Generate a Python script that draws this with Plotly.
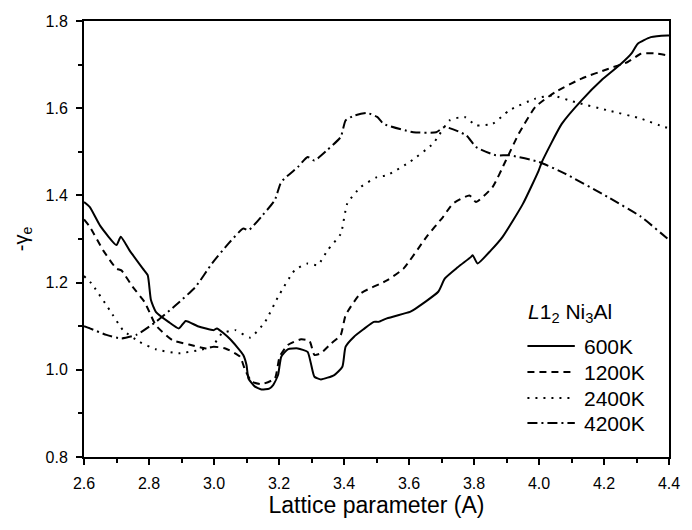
import plotly.graph_objects as go

# ---- data ----
x_600 = [2.60, 2.618, 2.65, 2.70, 2.713, 2.74, 2.781, 2.796, 2.806, 2.821, 2.86, 2.892, 2.913, 2.95, 2.999, 3.009,
         3.05, 3.09, 3.10, 3.106, 3.125, 3.146, 3.170, 3.182, 3.197, 3.207, 3.227, 3.258, 3.288, 3.298, 3.309,
         3.329, 3.370, 3.395, 3.405, 3.431, 3.46, 3.492, 3.507, 3.532, 3.603, 3.613, 3.690, 3.710, 3.75, 3.791,
         3.796, 3.811, 3.852, 3.888, 3.95, 3.999, 4.009, 4.070, 4.131, 4.192, 4.25, 4.284, 4.304, 4.344, 4.395, 4.40]
y_600 = [1.385, 1.373, 1.33, 1.286, 1.305, 1.274, 1.232, 1.217, 1.160, 1.133, 1.11, 1.095, 1.112, 1.10, 1.091, 1.095,
         1.07, 1.034, 1.011, 0.980, 0.962, 0.955, 0.957, 0.965, 0.988, 1.030, 1.047, 1.049, 1.041, 1.015, 0.984,
         0.978, 0.988, 1.007, 1.053, 1.076, 1.093, 1.110, 1.110, 1.118, 1.133, 1.137, 1.179, 1.209, 1.235, 1.259,
         1.263, 1.244, 1.274, 1.305, 1.38, 1.457, 1.477, 1.564, 1.618, 1.664, 1.70, 1.725, 1.748, 1.763, 1.767, 1.767]

x_1200 = [2.60, 2.618, 2.659, 2.70, 2.715, 2.75, 2.786, 2.801, 2.821, 2.872, 2.923, 2.974, 2.999, 3.035, 3.080,
          3.096, 3.116, 3.146, 3.187, 3.202, 3.227, 3.268, 3.294, 3.309, 3.329, 3.36, 3.390, 3.405, 3.451, 3.532,
          3.583, 3.654, 3.705, 3.735, 3.786, 3.806, 3.857, 3.898, 3.938, 3.989, 4.050, 4.131, 4.212, 4.273, 4.314,
          4.354, 4.395, 4.40]
y_1200 = [1.345, 1.328, 1.274, 1.232, 1.228, 1.19, 1.156, 1.133, 1.102, 1.068, 1.058, 1.049, 1.053, 1.049, 1.030,
          0.999, 0.973, 0.967, 0.980, 1.030, 1.057, 1.070, 1.066, 1.034, 1.038, 1.06, 1.080, 1.125, 1.175, 1.205,
          1.232, 1.305, 1.351, 1.381, 1.400, 1.385, 1.419, 1.480, 1.542, 1.603, 1.637, 1.668, 1.690, 1.706, 1.725,
          1.726, 1.721, 1.720]

x_2400 = [2.60, 2.623, 2.679, 2.720, 2.771, 2.821, 2.892, 2.953, 2.994, 3.024, 3.065, 3.111, 3.157, 3.197, 3.248,
          3.288, 3.319, 3.349, 3.390, 3.410, 3.451, 3.502, 3.532, 3.603, 3.674, 3.725, 3.771, 3.806, 3.857, 3.908,
          3.989, 4.040, 4.111, 4.212, 4.314, 4.385, 4.40]
y_2400 = [1.215, 1.198, 1.137, 1.091, 1.064, 1.047, 1.038, 1.045, 1.053, 1.083, 1.091, 1.074, 1.110, 1.167, 1.228,
          1.244, 1.240, 1.274, 1.312, 1.381, 1.419, 1.442, 1.446, 1.477, 1.519, 1.572, 1.580, 1.561, 1.564, 1.595,
          1.622, 1.629, 1.614, 1.595, 1.576, 1.557, 1.555]

x_4200 = [2.60, 2.618, 2.669, 2.715, 2.761, 2.821, 2.882, 2.943, 2.994, 3.045, 3.090, 3.106, 3.15, 3.187, 3.207,
          3.258, 3.288, 3.309, 3.35, 3.390, 3.405, 3.431, 3.471, 3.502, 3.522, 3.613, 3.684, 3.710, 3.776, 3.806,
          3.867, 3.908, 3.999, 4.080, 4.212, 4.314, 4.395, 4.40]
y_4200 = [1.10, 1.095, 1.080, 1.072, 1.080, 1.110, 1.148, 1.190, 1.244, 1.290, 1.324, 1.320, 1.355, 1.389, 1.431,
          1.465, 1.488, 1.480, 1.505, 1.534, 1.572, 1.583, 1.589, 1.580, 1.564, 1.545, 1.545, 1.557, 1.538, 1.511,
          1.492, 1.492, 1.477, 1.450, 1.396, 1.351, 1.301, 1.298]

series_names = ["600K", "1200K", "2400K", "4200K"]
legend_title = "<i>L</i>1<sub>2</sub> Ni<sub>3</sub>Al"
dash_styles = ["solid", "7px,5px", "2px,6px", "10px,4px,2px,4px"]

FONT = "Liberation Sans, Arial, Helvetica, sans-serif"

fig = go.Figure()
for name, xs, ys, dash in zip(series_names,
                              [x_600, x_1200, x_2400, x_4200],
                              [y_600, y_1200, y_2400, y_4200],
                              dash_styles):
    fig.add_trace(go.Scatter(x=xs, y=ys, mode="lines", name=name, showlegend=False,
                             line=dict(color="black", width=2, dash=dash,
                                       shape="spline", smoothing=0.5)))

axis_common = dict(showline=True, linecolor="black", linewidth=2, mirror=True,
                   ticks="outside", ticklen=6, tickwidth=1.5, tickcolor="black",
                   ticklabelstandoff=5,
                   showgrid=False, zeroline=False,
                   tickfont=dict(family=FONT, size=16, color="black"))

fig.update_xaxes(range=[2.6, 4.4], dtick=0.2, tick0=2.6, tickformat=".1f",
                 minor=dict(ticks="outside", ticklen=4, dtick=0.1, tickcolor="black", tickwidth=1.5),
                 title=dict(text="Lattice parameter (A)", font=dict(family=FONT, size=23, color="black"),
                            standoff=3),
                 **axis_common)
fig.update_yaxes(range=[0.8, 1.8], dtick=0.2, tick0=0.8, tickformat=".1f",
                 minor=dict(ticks="outside", ticklen=4, dtick=0.1, tickcolor="black", tickwidth=1.5),
                 title=dict(text="-γ<sub>e</sub>", font=dict(family=FONT, size=20, color="black"),
                            standoff=12),
                 **axis_common)

# ---- legend drawn as a key box (paper coordinates) ----
leg_x_title = 0.755
leg_key_x0, leg_key_x1, leg_text_x = 0.758, 0.839, 0.852
leg_title_y = 0.330
leg_row_y = [0.2544, 0.1948, 0.1352, 0.0779]

fig.add_annotation(x=leg_x_title, y=leg_title_y, xref="paper", yref="paper",
                   text=legend_title, showarrow=False, xanchor="left", yanchor="middle",
                   font=dict(family=FONT, size=21, color="black"))
for name, dash, yy in zip(series_names, dash_styles, leg_row_y):
    fig.add_shape(type="line", xref="paper", yref="paper",
                  x0=leg_key_x0, x1=leg_key_x1, y0=yy, y1=yy,
                  line=dict(color="black", width=2, dash=dash))
    fig.add_annotation(x=leg_text_x, y=yy, xref="paper", yref="paper",
                       text=name, showarrow=False, xanchor="left", yanchor="middle",
                       font=dict(family=FONT, size=21, color="black"))

fig.update_layout(
    width=692, height=530,
    margin=dict(l=84, r=17, t=21, b=73),
    plot_bgcolor="white", paper_bgcolor="white",
    font=dict(family=FONT, color="black"),
    showlegend=False,
)

fig.write_html("out.html", config={"displayModeBar": False},
               post_script="document.body.style.margin='0';")
